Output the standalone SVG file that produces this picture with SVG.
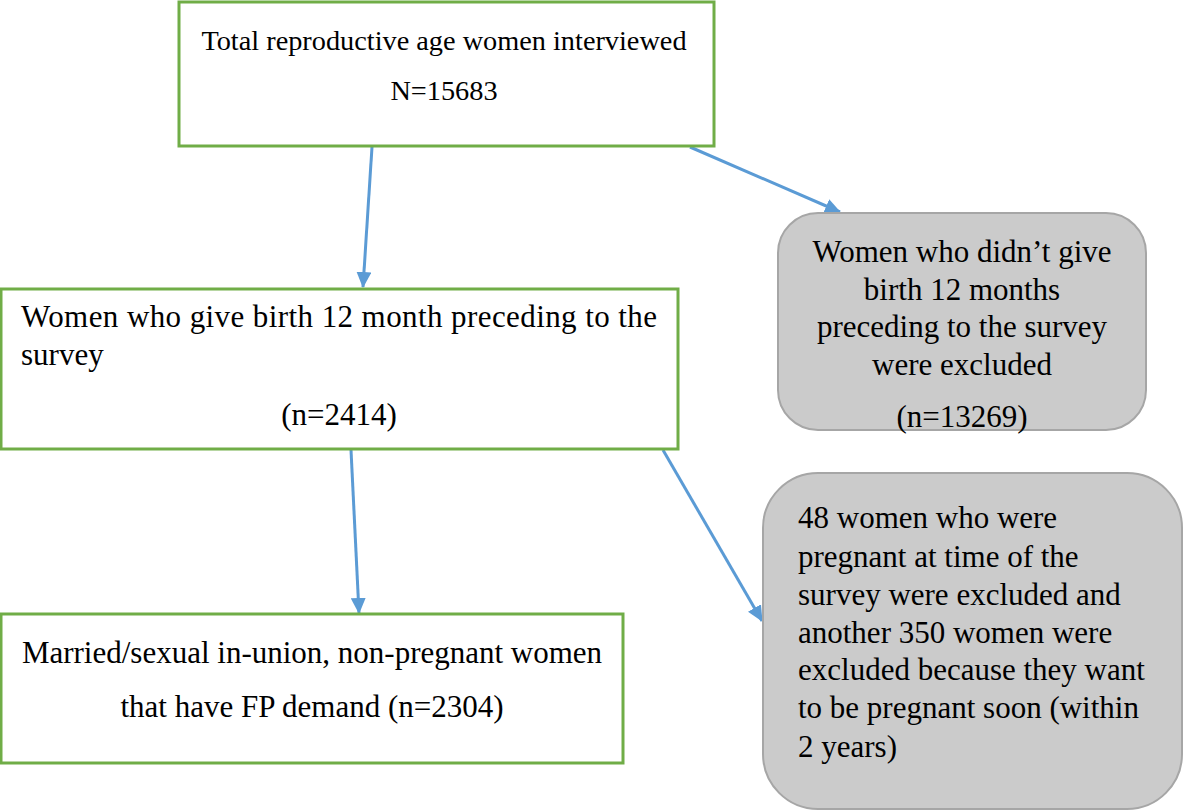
<svg xmlns="http://www.w3.org/2000/svg" width="1183" height="811" viewBox="0 0 1183 811">
<defs>
<marker id="arr" markerWidth="16" markerHeight="15" refX="15" refY="7.5" orient="auto" markerUnits="userSpaceOnUse" viewBox="0 0 16 15">
<path d="M0,0 L16,7.5 L0,15 Z" fill="#5B9BD5"/>
</marker>
</defs>
<style>
.g{fill:#ffffff;stroke:#70AD47;stroke-width:3}
.r{fill:#CBCBCB;stroke:#A6A6A6;stroke-width:2}
.t{font-family:"Liberation Serif","Times New Roman",serif;font-size:31px;fill:#000}
.s{font-size:28.3px}
.c{text-anchor:middle}
.e{stroke:#5B9BD5;stroke-width:3;fill:none}
</style>
<rect width="1183" height="811" fill="#ffffff"/>
<g id="connectors">
<line class="e" x1="372" y1="147" x2="363" y2="287" marker-end="url(#arr)"/>
<line class="e" x1="690" y1="147" x2="840" y2="212" marker-end="url(#arr)"/>
<line class="e" x1="351" y1="450" x2="359" y2="613" marker-end="url(#arr)"/>
<line class="e" x1="663" y1="450" x2="762" y2="621" marker-end="url(#arr)"/>
</g>
<g id="n1">
<rect class="g" x="179" y="2" width="535" height="144"/>
<text class="t s c" x="444" y="50">Total reproductive age women interviewed</text>
<text class="t s c" x="444" y="100">N=15683</text>
</g>
<g id="n2">
<rect class="g" x="1" y="289" width="677" height="160"/>
<text class="t" x="21" y="327" textLength="636" lengthAdjust="spacing">Women who give birth 12 month preceding to the</text>
<text class="t" x="21" y="365">survey</text>
<text class="t c" x="339" y="425">(n=2414)</text>
</g>
<g id="n3">
<rect class="g" x="1" y="614" width="622" height="149"/>
<text class="t c" x="312" y="663">Married/sexual in-union, non-pregnant women</text>
<text class="t c" x="312" y="717">that have FP demand (n=2304)</text>
</g>
<g id="n4">
<rect class="r" x="778" y="213" width="368" height="217" rx="40" ry="40"/>
<text class="t c" x="962" y="262">Women who didn’t give</text>
<text class="t c" x="962" y="300">birth 12 months</text>
<text class="t c" x="962" y="337">preceding to the survey</text>
<text class="t c" x="962" y="375">were excluded</text>
<text class="t c" x="962" y="427">(n=13269)</text>
</g>
<g id="n5">
<rect class="r" x="763" y="473" width="419" height="336" rx="55" ry="55"/>
<text class="t" x="798" y="528">48 women who were</text>
<text class="t" x="798" y="567">pregnant at time of the</text>
<text class="t" x="798" y="605">survey were excluded and</text>
<text class="t" x="798" y="643">another 350 women were</text>
<text class="t" x="798" y="680">excluded because they want</text>
<text class="t" x="798" y="718">to be pregnant soon (within</text>
<text class="t" x="798" y="757">2 years)</text>
</g>
</svg>
